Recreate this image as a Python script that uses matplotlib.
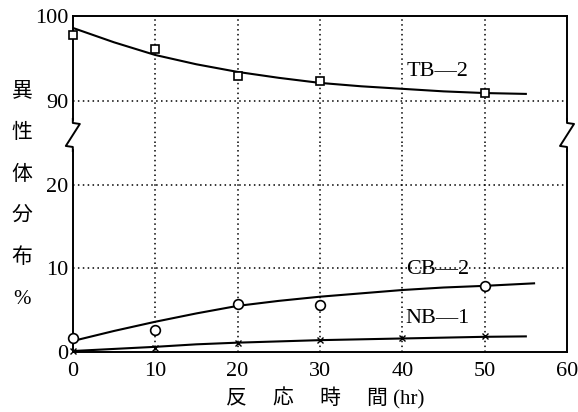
import matplotlib
matplotlib.use("Agg")
import matplotlib.pyplot as plt
from matplotlib.lines import Line2D

plt.rcParams['font.family'] = ['Liberation Serif', 'Noto Sans CJK JP', 'DejaVu Sans']

# ---- データ ----
t_pts = [0, 10, 20, 30, 50]
tb2_pts = [97.8, 96.1, 92.9, 92.3, 90.9]
cb2_pts = [1.6, 2.6, 5.7, 5.6, 7.9]
nb1_t = [0, 10, 20, 30, 40, 50]
nb1_pts = [0.1, 0.5, 1.0, 1.4, 1.6, 1.9]

# 曲線 (手描きの平滑線)
tb2_ct = [0, 5, 10, 15, 20, 25, 30, 35, 40, 45, 50, 55]
tb2_cv = [98.6, 96.9, 95.4, 94.3, 93.4, 92.7, 92.1, 91.7, 91.4, 91.1, 90.9, 90.8]
cb2_ct = [0, 5, 10, 15, 20, 25, 30, 35, 40, 45, 50, 56]
cb2_cv = [1.3, 2.5, 3.6, 4.6, 5.5, 6.1, 6.6, 7.0, 7.4, 7.7, 7.9, 8.2]
nb1_ct = [0, 5, 10, 15, 20, 25, 30, 35, 40, 45, 50, 55]
nb1_cv = [0.1, 0.35, 0.6, 0.9, 1.1, 1.25, 1.4, 1.5, 1.6, 1.7, 1.8, 1.85]

x_ticks = [0, 10, 20, 30, 40, 50, 60]
y_top_ticks = [90, 100]
y_bot_ticks = [0, 10, 20]
ylabel_chars = ['異', '性', '体', '分', '布', '%']

fig = plt.figure(figsize=(5.78, 4.12), dpi=100)
L, W = 0.126, 0.855
ax_t = fig.add_axes([L, 0.653, W, 0.308])
ax_b = fig.add_axes([L, 0.146, W, 0.507])

grid_kw = dict(color='black', linestyle=(0, (1, 2.2)), linewidth=1.1)
for ax in (ax_t, ax_b):
    ax.set_xlim(0, 60)
    ax.set_xticks(x_ticks)
    for x in x_ticks[1:-1]:
        ax.axvline(x, **grid_kw, zorder=1)
    ax.tick_params(length=0, labelsize=16, pad=3)
    ax.tick_params(axis='x', pad=7)
    for s in ax.spines.values():
        s.set_linewidth(1.4)

ax_t.set_ylim(85, 100)
ax_t.set_yticks(y_top_ticks)
ax_t.axhline(90, **grid_kw, zorder=1)
ax_t.tick_params(labelbottom=False)
ax_t.spines['bottom'].set_visible(False)

ax_b.set_ylim(0, 25)
ax_b.set_yticks(y_bot_ticks)
for y in y_bot_ticks[1:]:
    ax_b.axhline(y, **grid_kw, zorder=1)
ax_b.spines['top'].set_visible(False)

# TB-2
ax_t.plot(tb2_ct, tb2_cv, color='black', lw=1.5, zorder=3)
ax_t.plot(t_pts, tb2_pts, 's', ms=6, mfc='white', mec='black', mew=1.2,
          zorder=4, clip_on=False)
ax_t.text(44.3, 93.5, 'TB—2', fontsize=16, ha='center', va='center')

# CB-2
ax_b.plot(cb2_ct, cb2_cv, color='black', lw=1.5, zorder=3)
ax_b.plot(t_pts, cb2_pts, 'o', ms=7, mfc='white', mec='black', mew=1.2,
          zorder=4, clip_on=False)
ax_b.text(44.3, 9.8, 'CB—2', fontsize=16, ha='center', va='center')

# NB-1
ax_b.plot(nb1_ct, nb1_cv, color='black', lw=1.5, zorder=3)
ax_b.plot(nb1_t, nb1_pts, 'x', ms=5, color='black', mew=1.0, zorder=4,
          clip_on=False)
ax_b.text(44.3, 4.0, 'NB—1', fontsize=16, ha='center', va='center')

# 軸の切れ目 (ジグザグ)
fx = fig.transFigure
dx, dy = 7 / 578, 1 / 412
for xf in (L, L + W):
    xs = [xf, xf, xf + dx, xf - dx, xf, xf]
    ys = [0.653 + 24 * dy, 0.653 + 20 * dy, 0.653 + 19 * dy,
          0.653 - 3 * dy, 0.653 - 4 * dy, 0.653 - 8 * dy]
    fig.add_artist(Line2D([xf, xf], [0.653 - 4 * dy, 0.653 + 20 * dy],
                          transform=fx, color='white', lw=3))
    fig.add_artist(Line2D(xs, ys, transform=fx, color='black', lw=1.4))

# 軸ラベル
for i, ch in enumerate(ylabel_chars):
    fig.text(22 / 578, 1 - (92 + i * 41.5) / 412, ch, fontsize=15,
             ha='center', va='center')
fig.text(325 / 578, 1 - 398 / 412, '反　 応　 時　 間 (hr)', fontsize=15,
         ha='center', va='center')

fig.savefig('out.png', dpi=100)
